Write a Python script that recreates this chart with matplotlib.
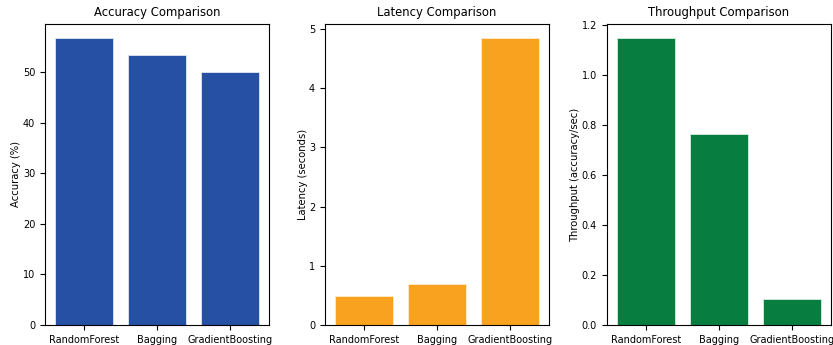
import matplotlib
matplotlib.use("Agg")
import matplotlib.pyplot as plt

# Data
models = ["RandomForest", "Bagging", "GradientBoosting"]
accuracy = [56.7, 53.4, 50.1]  # percent
latency = [0.495, 0.70, 4.84]  # seconds
throughput = [1.146, 0.763, 0.1035]  # accuracy/sec

plt.rcParams["font.size"] = 7

fig = plt.figure(figsize=(8.33, 3.45), dpi=100)
w = 0.2693
b = 0.058
h = 0.8725
ax1 = fig.add_axes([0.054, b, w, h])
ax2 = fig.add_axes([0.390, b, w, h])
ax3 = fig.add_axes([0.7283, b, w, h])

ax1.bar(models, accuracy, color="#2550a4", edgecolor="#dfe5f2", linewidth=0.6)
ax1.set_title("Accuracy Comparison", fontsize=8.4)
ax1.set_ylabel("Accuracy (%)", fontsize=7.2, labelpad=1)

ax2.bar(models, latency, color="#f9a21f", edgecolor="#fdebd0", linewidth=0.6)
ax2.set_title("Latency Comparison", fontsize=8.4)
ax2.set_ylabel("Latency (seconds)", fontsize=7.2, labelpad=1)

ax3.bar(models, throughput, color="#077d3f", edgecolor="#d6ece0", linewidth=0.6)
ax3.set_title("Throughput Comparison", fontsize=8.4)
ax3.set_ylabel("Throughput (accuracy/sec)", fontsize=7.2, labelpad=1)

for ax in (ax1, ax2, ax3):
    ax.tick_params(labelsize=7)

fig.savefig("out.png", dpi=100)
